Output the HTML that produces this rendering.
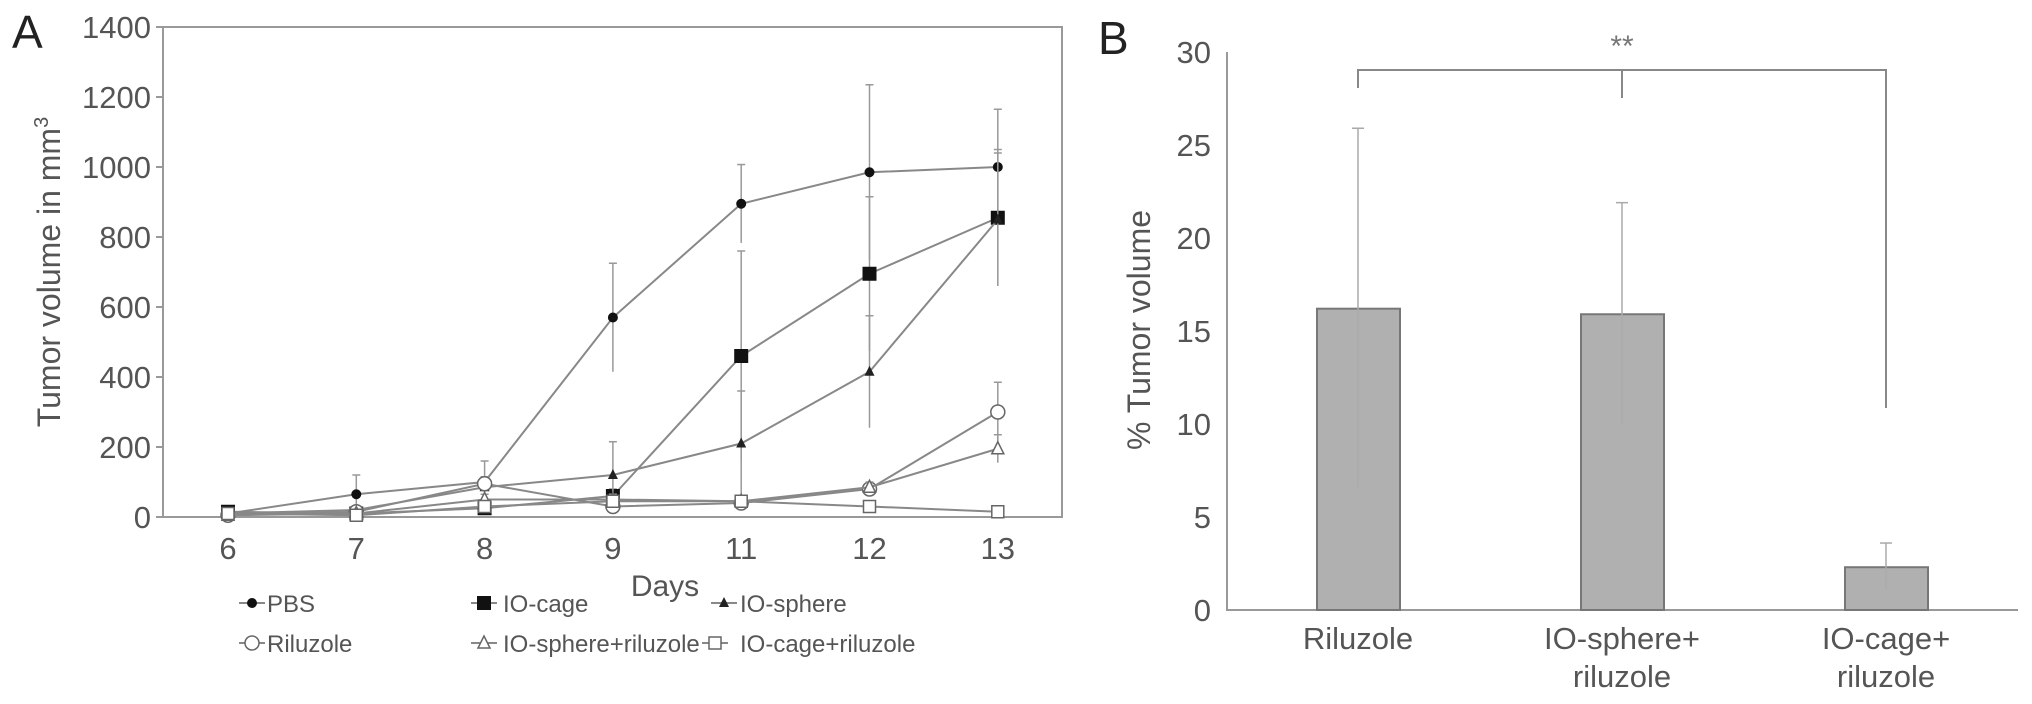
<!DOCTYPE html>
<html><head><meta charset="utf-8"><style>
html,body{margin:0;padding:0;background:#fff;}
svg{display:block;font-family:"Liberation Sans",sans-serif;}
</style></head><body>
<svg id="fig" width="2032" height="704" viewBox="0 0 2032 704" xmlns="http://www.w3.org/2000/svg">
<text x="12" y="48" font-size="46" fill="#222">A</text>
<text x="1098" y="54" font-size="46" fill="#222">B</text>
<text transform="translate(60,272) rotate(-90)" text-anchor="middle" font-size="32" fill="#555">Tumor volume in mm<tspan dy="-12" font-size="20">3</tspan></text>
<text x="665" y="596" text-anchor="middle" font-size="30" fill="#555">Days</text>
<text transform="translate(1150,330) rotate(-90)" text-anchor="middle" font-size="32" fill="#555">% Tumor volume</text>
<g id="ga"></g><g id="gb"></g>
</svg>
<script>
const days = ["6","7","8","9","11","12","13"];
const yTicksA = [0,200,400,600,800,1000,1200,1400];
const seriesNames = ["PBS","IO-cage","IO-sphere","Riluzole","IO-sphere+riluzole","IO-cage+riluzole"];
const seriesMarkers = ["dot","square","triangle","circle","otriangle","osquare"];
const pbs = [10,65,100,570,895,985,1000];
const pbsErr = [5,55,60,155,112,250,165];
const ioCage = [15,10,25,60,460,695,855];
const ioCageErr = [5,10,15,20,300,220,195];
const ioSphere = [10,20,85,120,210,415,850];
const ioSphereErr = [5,10,30,95,150,160,190];
const riluzole = [5,15,95,30,40,80,300];
const riluzoleErr = [5,10,20,15,15,15,85];
const sphereRil = [5,10,50,50,45,85,195];
const sphereRilErr = [5,8,15,15,10,15,40];
const cageRil = [10,5,30,45,45,30,15];
const cageRilErr = [5,5,10,10,10,10,5];

const barCats = [["Riluzole"],["IO-sphere+","riluzole"],["IO-cage+","riluzole"]];
const barVals = [16.2,15.9,2.3];
const barErrLo = [6.6,10.0,1.1];
const barErrHi = [25.9,21.9,3.6];
const yTicksB = [0,5,10,15,20,25,30];

const NS="http://www.w3.org/2000/svg";
function mk(tag,attrs,parent){const e=document.createElementNS(NS,tag);for(const k in attrs)e.setAttribute(k,attrs[k]);parent.appendChild(e);return e;}
const ga=document.getElementById('ga'), gb=document.getElementById('gb');

const AX0=163, AX1=1062, AY0=517, AY1=27;
const xA=i=>228+i*128.3;
const yA=v=>AY0-(v/1400)*(AY0-AY1);
let r=mk('rect',{x:AX0,y:AY1,width:AX1-AX0,height:AY0-AY1,fill:'none',stroke:'#999','stroke-width':2},ga);


yTicksA.forEach(v=>{
  let t=mk('line',{x1:AX0-7,x2:AX0,y1:yA(v),y2:yA(v),stroke:'#999','stroke-width':2},ga);
  
  
  let l=mk('text',{x:AX0-12,y:yA(v)+11,'text-anchor':'end','font-size':31,fill:'#555'},ga);
  l.textContent=v;
  
  
});
days.forEach((d,i)=>{
  let l=mk('text',{x:xA(i),y:559,'text-anchor':'middle','font-size':31,fill:'#555'},ga);
  l.textContent=d;
  
  
});
function marker(type,x,y,parent){
  let e;
  if(type==='dot') e=mk('circle',{cx:x,cy:y,r:5,fill:'#111'},parent);
  else if(type==='square') e=mk('rect',{x:x-7,y:y-7,width:14,height:14,fill:'#111'},parent);
  else if(type==='triangle') e=mk('polygon',{points:`${x},${y-6} ${x-5},${y+4} ${x+5},${y+4}`,fill:'#222'},parent);
  else if(type==='circle') e=mk('circle',{cx:x,cy:y,r:7,fill:'#fff',stroke:'#666','stroke-width':1.5},parent);
  else if(type==='otriangle') e=mk('polygon',{points:`${x},${y-7} ${x-6},${y+5} ${x+6},${y+5}`,fill:'#fff',stroke:'#666','stroke-width':1.5},parent);
  else e=mk('rect',{x:x-6,y:y-6,width:12,height:12,fill:'#fff',stroke:'#666','stroke-width':1.5},parent);
  return e;
}
const allSeries=[[pbs,pbsErr],[ioCage,ioCageErr],[ioSphere,ioSphereErr],[riluzole,riluzoleErr],[sphereRil,sphereRilErr],[cageRil,cageRilErr]];
allSeries.forEach(([vals,errs],s)=>{
  const g=mk('g',{},ga);
  
  
  vals.forEach((v,i)=>{
    const x=xA(i);
    let e=mk('line',{x1:x,x2:x,y1:yA(v+errs[i]),y2:yA(Math.max(0,v-errs[i])),stroke:'#999','stroke-width':1.5},g);
    
    
    mk('line',{x1:x-4,x2:x+4,y1:yA(v+errs[i]),y2:yA(v+errs[i]),stroke:'#999','stroke-width':1.5},g);
  });
  let p=mk('polyline',{points:vals.map((v,i)=>xA(i)+','+yA(v)).join(' '),fill:'none',stroke:'#888','stroke-width':2},g);
  
  
  vals.forEach((v,i)=>{
    let m=marker(seriesMarkers[s],xA(i),yA(v),g);
    
    
  });
});
const legX=[252,484,724,252,484,715], legTX=[267,503,740,267,503,740], legY=[603,603,603,643,643,643];
seriesNames.forEach((n,s)=>{
  const g=mk('g',{},ga);
  
  
  mk('line',{x1:legX[s]-13,x2:legX[s]+13,y1:legY[s],y2:legY[s],stroke:'#888','stroke-width':2},g);
  marker(seriesMarkers[s],legX[s],legY[s],g);
  let t=mk('text',{x:legTX[s],y:legY[s]+9,'font-size':24,fill:'#555'},g);
  t.textContent=n;
});

const BX0=1227, BX1=2018, BY0=610;
const yB=v=>BY0-v*18.6;
const xB=i=>1358+i*264;
let ax=mk('polyline',{points:`${BX0},${yB(30)} ${BX0},${BY0} ${BX1},${BY0}`,fill:'none',stroke:'#999','stroke-width':2},gb);


yTicksB.forEach(v=>{
  let l=mk('text',{x:BX0-16,y:yB(v)+11,'text-anchor':'end','font-size':31,fill:'#555'},gb);
  l.textContent=v;
  
  
});
barVals.forEach((v,i)=>{
  let b=mk('rect',{x:xB(i)-41,y:yB(v),width:83,height:BY0-yB(v),fill:'#b0b0b0',stroke:'#777','stroke-width':2},gb);
  
  
  let e=mk('line',{x1:xB(i),x2:xB(i),y1:yB(barErrHi[i]),y2:yB(barErrLo[i]),stroke:'#aaa','stroke-width':1.5},gb);
  
  
  mk('line',{x1:xB(i)-6,x2:xB(i)+6,y1:yB(barErrHi[i]),y2:yB(barErrHi[i]),stroke:'#aaa','stroke-width':1.5},gb);
  barCats[i].forEach((line,k)=>{
    let t=mk('text',{x:xB(i),y:649+k*38,'text-anchor':'middle','font-size':31,fill:'#555'},gb);
    t.textContent=line;
    
    
  });
});
let br=mk('polyline',{points:`${xB(0)},88 ${xB(0)},70 ${xB(2)},70 ${xB(2)},408`,fill:'none',stroke:'#888','stroke-width':2},gb);


mk('line',{x1:xB(1),x2:xB(1),y1:70,y2:98,stroke:'#888','stroke-width':2},gb);
let st=mk('text',{x:xB(1),y:56,'text-anchor':'middle','font-size':30,fill:'#777'},gb);
st.textContent='**';


</script>
</body></html>
